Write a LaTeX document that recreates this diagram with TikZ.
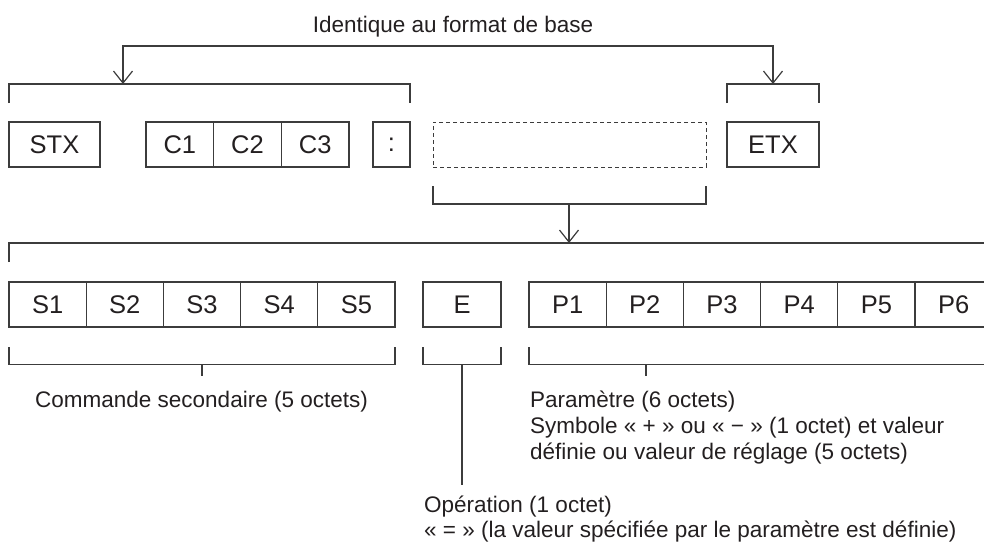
\documentclass[tikz,border=0pt]{standalone}
\usepackage{fontspec}
\setmainfont{Liberation Sans}
\usetikzlibrary{arrows.meta}
\definecolor{linecol}{RGB}{60,60,60}
\definecolor{txtcol}{RGB}{35,31,32}
\newcommand\myboxfont{\fontsize{25.5}{30}\selectfont}
\newcommand\mylblfont{\fontsize{22.5}{26}\selectfont}
\begin{document}
\begin{tikzpicture}[x=1pt,y=-1pt,
  ln/.style={draw=linecol,line width=1.2pt,line join=miter},
  tip/.tip={Straight Barb[length=12pt,width=19pt,line width=1.2pt]},
  bx/.style={draw=linecol,line width=1.2pt,minimum height=45pt,inner sep=0pt,text=txtcol,font=\myboxfont},
  lbl/.style={text=txtcol,font=\mylblfont,inner sep=0pt,anchor=base west}]
\useasboundingbox (0,0) rectangle (984,543);

% title and top arrows
\node[text=txtcol,font=\mylblfont,inner sep=0pt,anchor=base] (title) at (453,33) {Identique au format de base};
\coordinate (tA) at (123,46);
\coordinate (tB) at (773,46);
\coordinate (arA) at (123,84);
\coordinate (arB) at (773,84);
\draw[ln,tip-tip] (arA) -- (tA) -- (tB) -- (arB);

% top brackets
\coordinate (aL) at (9,103);  \coordinate (aTL) at (9,84);
\coordinate (aR) at (410,103); \coordinate (aTR) at (410,84);
\draw[ln] (aL) -- (aTL) -- (aTR) -- (aR);
\coordinate (bL) at (727,103); \coordinate (bTL) at (727,84);
\coordinate (bR) at (819,103); \coordinate (bTR) at (819,84);
\draw[ln] (bL) -- (bTL) -- (bTR) -- (bR);

% first row
\node[bx,minimum width=91pt] (stx) at (54.5,144.5) {STX};
\node[bx,minimum width=67.67pt] (c1) at (179.83,144.5) {C1};
\node[bx,minimum width=67.67pt] (c2) at (247.5,144.5) {C2};
\node[bx,minimum width=67.67pt] (c3) at (315.17,144.5) {C3};
\node[bx,minimum width=37pt] (colon) at (391.5,144.5) {:};
\node[bx,minimum width=273pt,line width=1pt,dash pattern=on 4pt off 3pt] (dash) at (569.5,144.5) {};
\node[bx,minimum width=92pt] (etx) at (773,144.5) {ETX};

% bracket under dashed box
\coordinate (cL) at (433,186); \coordinate (cBL) at (433,204);
\coordinate (cR) at (706,186); \coordinate (cBR) at (706,204);
\coordinate (cM) at (569,204); \coordinate (cA) at (569,243);
\draw[ln] (cL) -- (cBL) -- (cBR) -- (cR);
\draw[ln,-tip] (cM) -- (cA);

% long bracket
\coordinate (dL) at (9,262); \coordinate (dTL) at (9,243);
\coordinate (dR) at (992,262); \coordinate (dTR) at (992,243);
\draw[ln] (dL) -- (dTL) -- (dTR) -- (dR);

% second row
\foreach \i/\x in {1/47.6,2/124.8,3/202,4/279.2,5/356.4}
  \node[bx,minimum width=77.2pt] (s\i) at (\x,304.5) {S\i};
\node[bx,minimum width=78pt] (e) at (462,304.5) {E};
\foreach \i/\x in {1/567.6,2/644.8,3/722,4/799.2,5/876.4,6/953.6}
  \node[bx,minimum width=77.2pt] (p\i) at (\x,304.5) {P\i};

% bottom brackets
\coordinate (sL) at (9,347); \coordinate (sBL) at (9,364.5);
\coordinate (sR) at (395,347); \coordinate (sBR) at (395,364.5);
\coordinate (sM) at (202,364.5); \coordinate (sT) at (202,376);
\draw[ln] (sL) -- (sBL) -- (sBR) -- (sR);
\draw[ln] (sM) -- (sT);

\coordinate (eL) at (423,347); \coordinate (eBL) at (423,364.5);
\coordinate (eR) at (501,347); \coordinate (eBR) at (501,364.5);
\coordinate (eM) at (462,364.5); \coordinate (eT) at (462,485);
\draw[ln] (eL) -- (eBL) -- (eBR) -- (eR);
\draw[ln] (eM) -- (eT);

\coordinate (pL) at (529,347); \coordinate (pBL) at (529,364.5);
\coordinate (pR) at (992,347); \coordinate (pBR) at (992,364.5);
\coordinate (pM) at (646,364.5); \coordinate (pT) at (646,376);
\draw[ln] (pL) -- (pBL) -- (pBR) -- (pR);
\draw[ln] (pM) -- (pT);

% labels
\node[lbl] (cmd) at (35,407) {Commande secondaire (5 octets)};
\node[lbl] (par1) at (530,407) {Paramètre (6 octets)};
\node[lbl] (par2) at (530,433) {Symbole « + » ou « − » (1 octet) et valeur};
\node[lbl] (par3) at (530,459) {définie ou valeur de réglage (5 octets)};
\node[lbl] (op1) at (424,512) {Opération (1 octet)};
\node[lbl] (op2) at (424,537) {« = » (la valeur spécifiée par le paramètre est définie)};
\end{tikzpicture}
\end{document}
